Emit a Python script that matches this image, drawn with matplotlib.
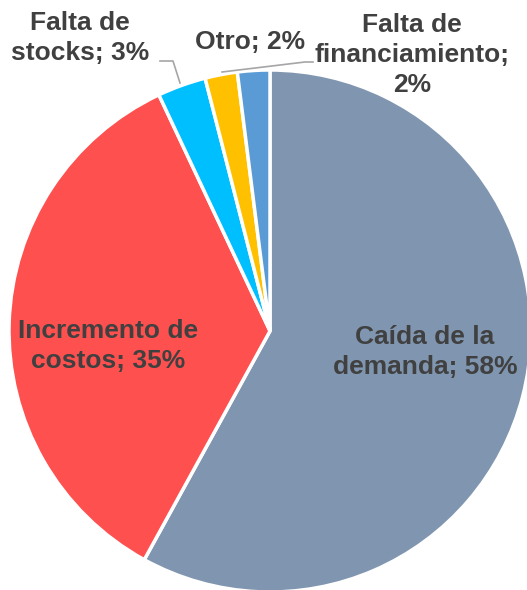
import matplotlib.pyplot as plt

labels = ["Caída de la\ndemanda; 58%", "Incremento de\ncostos; 35%",
          "Falta de\nstocks; 3%", "Otro; 2%", "Falta de\nfinanciamiento;\n2%"]
values = [58, 35, 3, 2, 2]
colors = ["#8096B0", "#FF5050", "#00BFFF", "#FFC000", "#5B9BD5"]

W, H = 527, 590
fig = plt.figure(figsize=(W / 100, H / 100), dpi=100)
ax = fig.add_axes([0, 0, 1, 1])


def py(y):
    # pixel row (from top) -> data y
    return H - y


ax.pie(values, colors=colors, startangle=90, counterclock=False,
       center=(270, py(331)), radius=261,
       wedgeprops=dict(edgecolor="white", linewidth=2.5))
ax.set_xlim(0, W)
ax.set_ylim(0, H)
ax.set_aspect("equal")
ax.axis("off")

txt = dict(fontsize=19, fontweight="bold", color="#404040",
           family=["Liberation Sans", "DejaVu Sans"], ha="center",
           va="center", linespacing=1.3)

# label positions in pixels (x, y from top)
pos = [(425, 352), (108, 346), (80, 38), (250, 42), (412, 55)]
for lab, (x, y) in zip(labels, pos):
    ax.text(x, py(y), lab, **txt)

# leader lines
ax.plot([160, 173, 180], [py(61), py(61), py(83)], color="#A6A6A6", lw=1.2)
ax.plot([313, 305, 222], [py(62), py(62), py(72)], color="#A6A6A6", lw=1.2)

fig.savefig("out.png", dpi=100)
